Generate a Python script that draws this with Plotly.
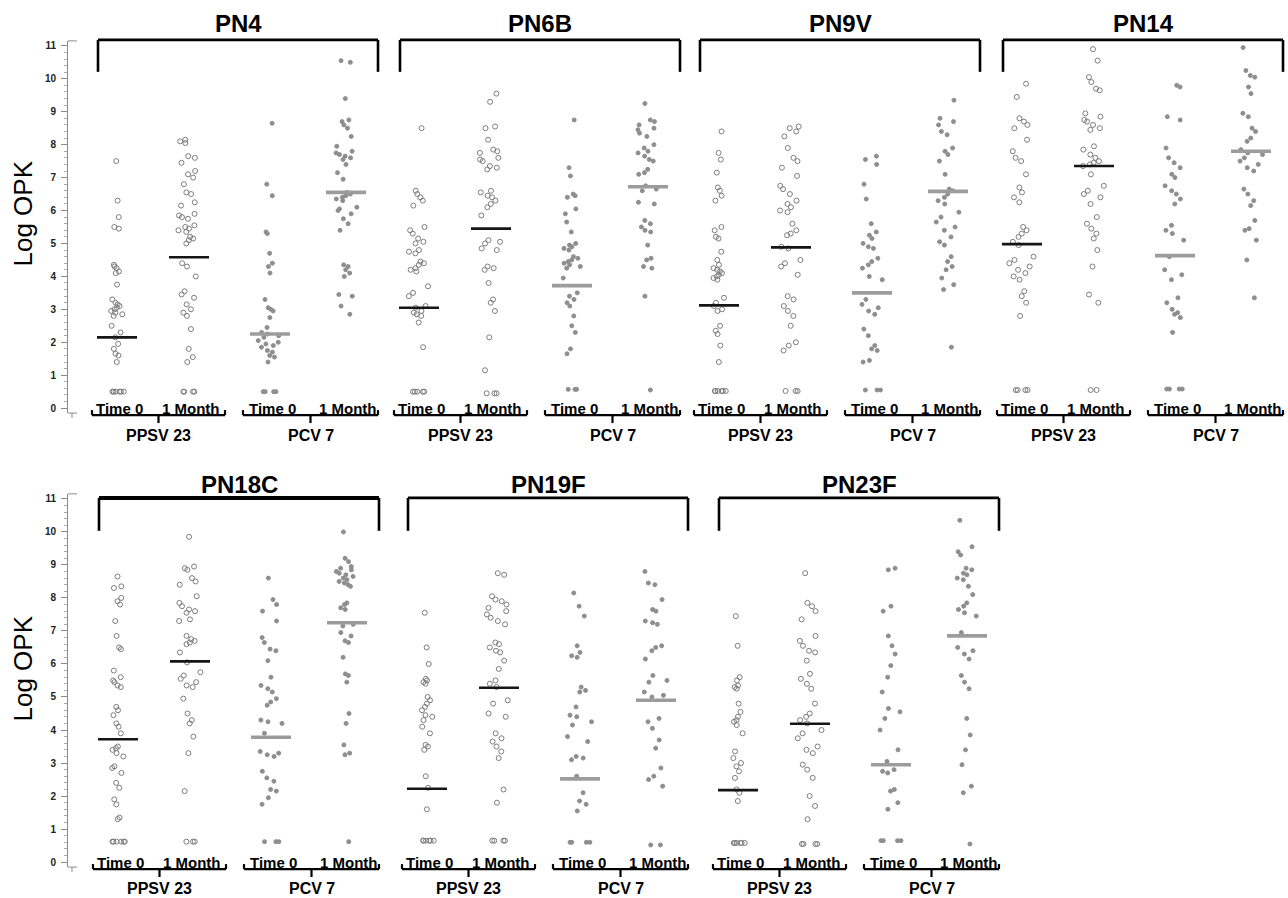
import plotly.graph_objects as go

# ---------------- data (Log OPK values) ----------------
serotypes = ["PN4", "PN6B", "PN9V", "PN14", "PN18C", "PN19F", "PN23F"]
time_labels = ["Time 0", "1 Month"]
vaccine_labels = ["PPSV 23", "PCV 7"]
y_tick_values = [0, 1, 2, 3, 4, 5, 6, 7, 8, 9, 10, 11]

pn4_ppsv_t0 = [7.5, 6.3, 5.8, 5.5, 5.45, 4.35, 4.3, 4.25, 4.15, 4.1, 3.75, 3.3, 3.2, 3.15, 3.1, 3.05, 3.0, 2.95,
               2.9, 2.85, 2.8, 2.5, 2.3, 2.15, 1.95, 1.8, 1.65, 1.6, 1.4, 0.5, 0.5, 0.5, 0.5, 0.5, 0.5]
pn4_ppsv_1m = [8.15, 8.1, 8.05, 7.65, 7.6, 7.45, 7.2, 7.1, 7.0, 6.8, 6.55, 6.5, 6.25, 6.15, 5.9, 5.85, 5.8, 5.75,
               5.55, 5.5, 5.45, 5.4, 5.35, 5.2, 5.15, 5.1, 5.0, 4.4, 4.3, 4.0, 3.55, 3.45, 3.35, 3.15, 3.0, 2.9,
               2.8, 2.4, 1.8, 1.55, 1.4, 0.5, 0.5, 0.5, 0.5]
pn4_pcv_t0 = [8.65, 6.8, 6.45, 5.35, 5.3, 4.7, 4.4, 4.3, 4.1, 3.3, 3.05, 3.0, 2.95, 2.75, 2.45, 2.3, 2.25, 2.2,
              2.15, 2.05, 2.0, 1.95, 1.9, 1.85, 1.75, 1.7, 1.6, 1.55, 1.4, 0.5, 0.5, 0.5, 0.5]
pn4_pcv_1m = [10.55, 10.5, 9.4, 8.75, 8.7, 8.6, 8.5, 8.25, 7.95, 7.8, 7.75, 7.7, 7.65, 7.6, 7.55, 7.4, 7.15, 6.95,
              6.55, 6.5, 6.45, 6.4, 6.35, 6.3, 6.1, 6.05, 6.0, 5.9, 5.75, 5.6, 5.4, 4.35, 4.3, 4.2, 4.1, 4.0,
              3.45, 3.4, 3.1, 2.85]
pn4_medians = [2.15, 4.58, 2.25, 6.55]

pn6b_ppsv_t0 = [8.5, 6.6, 6.5, 6.4, 6.3, 6.15, 5.5, 5.4, 5.3, 5.15, 5.05, 5.0, 4.8, 4.75, 4.7, 4.45, 4.4, 4.35,
                4.25, 4.2, 4.15, 3.7, 3.5, 3.4, 3.1, 3.05, 2.95, 2.9, 2.85, 2.8, 2.6, 1.85,
                0.5, 0.5, 0.5, 0.5, 0.5]
pn6b_ppsv_1m = [9.55, 9.3, 8.55, 8.5, 8.15, 7.85, 7.8, 7.75, 7.6, 7.55, 7.5, 7.35, 7.3, 7.25, 6.6, 6.55, 6.45,
                6.4, 6.3, 6.2, 6.1, 5.85, 5.1, 5.05, 5.0, 4.85, 4.8, 4.3, 4.25, 4.2, 3.8, 3.3, 3.2, 2.95, 2.15,
                1.15, 0.45, 0.45, 0.45]
pn6b_pcv_t0 = [8.75, 7.3, 7.05, 6.5, 6.45, 6.4, 6.05, 5.9, 5.65, 5.35, 5.0, 4.95, 4.9, 4.85, 4.8, 4.6, 4.55, 4.5,
               4.45, 4.4, 4.35, 4.3, 4.25, 3.95, 3.5, 3.4, 3.3, 3.2, 3.1, 2.8, 2.5, 2.3, 1.8, 1.65,
               0.57, 0.57, 0.57]
pn6b_pcv_1m = [9.25, 8.75, 8.7, 8.6, 8.5, 8.45, 8.35, 8.25, 8.0, 7.9, 7.8, 7.75, 7.65, 7.55, 7.5, 7.25, 7.15,
               7.1, 6.75, 6.65, 6.6, 6.25, 6.2, 5.7, 5.6, 5.5, 5.4, 5.35, 4.95, 4.55, 4.5, 4.3, 4.25, 3.4, 0.55]
pn6b_medians = [3.05, 5.45, 3.72, 6.72]

pn9v_ppsv_t0 = [8.4, 7.75, 7.55, 7.15, 6.7, 6.6, 6.45, 6.3, 5.5, 5.4, 5.2, 5.15, 4.75, 4.5, 4.35, 4.25, 4.2,
                4.15, 4.1, 4.05, 4.0, 3.95, 3.9, 3.35, 3.2, 3.1, 3.0, 2.95, 2.5, 2.35, 2.25, 1.9, 1.4,
                0.52, 0.52, 0.52, 0.52, 0.52, 0.52]
pn9v_ppsv_1m = [8.55, 8.5, 8.4, 8.25, 7.9, 7.6, 7.5, 7.3, 7.05, 6.75, 6.65, 6.5, 6.3, 6.2, 6.1, 6.0, 5.95, 5.6,
                5.4, 5.3, 5.25, 4.9, 4.85, 4.5, 4.4, 4.3, 4.05, 3.4, 3.3, 3.1, 2.95, 2.8, 2.5, 2.0, 1.9, 1.75,
                0.52, 0.52, 0.52]
pn9v_pcv_t0 = [7.65, 7.55, 7.4, 6.8, 6.35, 5.6, 5.35, 5.25, 5.15, 5.0, 4.9, 4.85, 4.55, 4.45, 4.35, 4.25, 4.0,
               3.9, 3.3, 3.15, 3.05, 2.95, 2.85, 2.4, 2.2, 1.9, 1.8, 1.75, 1.45, 1.4, 0.55, 0.55, 0.55]
pn9v_pcv_1m = [9.35, 8.8, 8.7, 8.6, 8.4, 8.3, 7.9, 7.8, 7.7, 7.5, 7.1, 6.65, 6.6, 6.5, 6.4, 6.3, 6.2, 5.95, 5.8,
               5.65, 5.5, 5.4, 5.2, 5.05, 4.95, 4.6, 4.45, 4.3, 4.2, 3.95, 3.75, 3.6, 1.85]
pn9v_medians = [3.12, 4.88, 3.5, 6.58]

pn14_ppsv_t0 = [9.85, 9.45, 8.8, 8.7, 8.6, 8.5, 8.15, 7.8, 7.6, 7.5, 7.1, 6.7, 6.55, 6.4, 6.25, 5.5, 5.4, 5.3,
                5.2, 5.05, 4.95, 4.6, 4.5, 4.4, 4.3, 4.2, 4.1, 4.0, 3.9, 3.55, 3.4, 3.2, 2.8,
                0.55, 0.55, 0.55, 0.55]
pn14_ppsv_1m = [10.9, 10.55, 10.05, 9.9, 9.7, 9.65, 8.95, 8.85, 8.75, 8.7, 8.6, 8.5, 8.45, 7.95, 7.85, 7.7, 7.6,
                7.5, 7.45, 7.4, 7.35, 7.1, 6.75, 6.6, 6.5, 6.4, 6.2, 5.8, 5.6, 5.45, 5.3, 5.15, 4.8, 4.3, 3.45,
                3.2, 0.55, 0.55]
pn14_pcv_t0 = [9.8, 9.75, 8.85, 8.75, 7.9, 7.6, 7.45, 7.3, 7.1, 7.0, 6.75, 6.6, 6.5, 6.35, 6.2, 5.55, 5.4, 5.3,
               5.1, 4.6, 4.2, 4.05, 3.9, 3.35, 3.2, 3.0, 2.9, 2.85, 2.75, 2.3, 0.58, 0.58, 0.58, 0.58]
pn14_pcv_1m = [10.95, 10.25, 10.1, 10.05, 9.75, 9.55, 8.95, 8.85, 8.5, 8.4, 8.2, 8.1, 7.85, 7.75, 7.7, 7.6, 7.5,
               7.4, 7.3, 7.2, 6.65, 6.5, 6.3, 6.15, 5.7, 5.45, 5.4, 5.1, 4.5, 3.35]
pn14_medians = [4.98, 7.35, 4.63, 7.8]

pn18c_ppsv_t0 = [8.65, 8.35, 8.3, 8.0, 7.9, 7.8, 7.3, 6.85, 6.5, 6.45, 5.8, 5.6, 5.5, 5.45, 5.35, 5.3, 4.7, 4.6,
                 4.45, 4.2, 4.1, 3.9, 3.5, 3.45, 3.4, 3.3, 3.2, 2.9, 2.85, 2.7, 2.4, 2.25, 1.9, 1.75, 1.35, 1.3,
                 0.62, 0.62, 0.62, 0.62, 0.62, 0.62]
pn18c_ppsv_1m = [9.85, 8.95, 8.9, 8.85, 8.6, 8.5, 8.4, 8.05, 7.85, 7.75, 7.65, 7.6, 7.55, 7.35, 7.3, 6.85, 6.75,
                 6.7, 6.65, 6.6, 6.35, 6.05, 5.75, 5.65, 5.55, 5.45, 5.35, 5.3, 4.95, 4.5, 4.3, 4.2, 3.8, 3.3,
                 2.15, 0.62, 0.62, 0.62]
pn18c_pcv_t0 = [8.6, 7.95, 7.8, 7.6, 7.3, 6.8, 6.65, 6.45, 6.4, 6.1, 5.6, 5.35, 5.25, 5.15, 4.95, 4.85, 4.75,
                4.3, 4.25, 4.2, 3.9, 3.35, 3.3, 3.25, 3.2, 2.75, 2.55, 2.45, 2.2, 2.15, 1.95, 1.75,
                0.62, 0.62, 0.62]
pn18c_pcv_1m = [10.0, 9.2, 9.1, 8.95, 8.9, 8.85, 8.8, 8.75, 8.7, 8.65, 8.6, 8.55, 8.5, 8.45, 8.4, 8.35, 7.85,
                7.8, 7.7, 7.65, 7.2, 7.15, 6.95, 6.85, 6.7, 6.65, 6.2, 5.7, 5.65, 5.45, 4.5, 4.2, 3.55, 3.3,
                3.25, 0.62]
pn18c_medians = [3.72, 6.08, 3.78, 7.25]

pn19f_ppsv_t0 = [7.55, 6.5, 6.0, 5.55, 5.5, 5.45, 5.4, 5.0, 4.9, 4.8, 4.7, 4.6, 4.45, 4.4, 4.3, 4.1, 3.9, 3.55,
                 3.5, 3.4, 2.6, 2.25, 1.6, 0.65, 0.65, 0.65, 0.65, 0.65, 0.65]
pn19f_ppsv_1m = [8.75, 8.7, 8.05, 7.95, 7.9, 7.8, 7.7, 7.6, 7.5, 7.4, 7.3, 7.2, 6.65, 6.6, 6.5, 6.4, 6.35, 6.1,
                 5.85, 5.5, 5.4, 5.3, 4.9, 4.8, 4.5, 4.4, 3.9, 3.75, 3.65, 3.5, 3.35, 3.15, 2.2, 1.8,
                 0.65, 0.65, 0.65, 0.65]
pn19f_pcv_t0 = [8.15, 7.75, 7.45, 6.55, 6.35, 6.25, 6.2, 5.3, 5.2, 5.15, 4.7, 4.45, 4.4, 4.25, 4.15, 3.8, 3.65,
                3.2, 3.15, 3.1, 2.6, 2.1, 1.85, 1.75, 1.55, 0.6, 0.6, 0.6, 0.6]
pn19f_pcv_1m = [8.8, 8.45, 8.4, 7.95, 7.65, 7.6, 7.3, 7.25, 7.2, 6.55, 6.5, 6.4, 6.15, 5.65, 5.5, 5.45, 5.15,
                5.05, 5.0, 4.35, 4.25, 4.05, 3.7, 3.45, 2.85, 2.6, 2.5, 2.3, 0.52, 0.52]
pn19f_medians = [2.22, 5.28, 2.52, 4.9]

pn23f_ppsv_t0 = [7.45, 6.55, 5.6, 5.5, 5.35, 5.3, 5.25, 4.8, 4.55, 4.4, 4.3, 4.25, 4.15, 3.9, 3.35, 3.15, 3.0,
                 2.9, 2.75, 2.55, 2.2, 2.1, 1.85, 0.58, 0.58, 0.58, 0.58, 0.58, 0.58]
pn23f_ppsv_1m = [8.75, 7.85, 7.75, 7.6, 7.35, 6.85, 6.7, 6.55, 6.4, 6.35, 6.1, 5.7, 5.55, 5.4, 5.25, 4.8, 4.5,
                 4.4, 4.3, 4.2, 4.0, 3.9, 3.75, 3.5, 3.4, 3.3, 2.95, 2.8, 2.55, 2.0, 1.7, 1.3,
                 0.55, 0.55, 0.55, 0.55]
pn23f_pcv_t0 = [8.9, 8.85, 7.75, 7.6, 6.85, 6.55, 6.3, 5.95, 5.6, 5.15, 4.65, 4.55, 4.35, 4.0, 3.4, 3.05, 2.8,
                2.75, 2.7, 2.2, 2.15, 1.8, 1.6, 0.65, 0.65, 0.65, 0.65]
pn23f_pcv_1m = [10.35, 9.55, 9.4, 9.3, 8.9, 8.85, 8.75, 8.7, 8.6, 8.55, 8.35, 8.1, 7.85, 7.75, 7.65, 7.55, 7.45,
                6.95, 6.5, 6.4, 6.3, 6.15, 5.65, 5.45, 5.25, 4.35, 3.85, 3.4, 2.95, 2.3, 2.1, 0.55]
pn23f_medians = [2.18, 4.19, 2.95, 6.85]

panel_columns = [
    [pn4_ppsv_t0, pn4_ppsv_1m, pn4_pcv_t0, pn4_pcv_1m],
    [pn6b_ppsv_t0, pn6b_ppsv_1m, pn6b_pcv_t0, pn6b_pcv_1m],
    [pn9v_ppsv_t0, pn9v_ppsv_1m, pn9v_pcv_t0, pn9v_pcv_1m],
    [pn14_ppsv_t0, pn14_ppsv_1m, pn14_pcv_t0, pn14_pcv_1m],
    [pn18c_ppsv_t0, pn18c_ppsv_1m, pn18c_pcv_t0, pn18c_pcv_1m],
    [pn19f_ppsv_t0, pn19f_ppsv_1m, pn19f_pcv_t0, pn19f_pcv_1m],
    [pn23f_ppsv_t0, pn23f_ppsv_1m, pn23f_pcv_t0, pn23f_pcv_1m],
]
panel_medians = [pn4_medians, pn6b_medians, pn9v_medians, pn14_medians,
                 pn18c_medians, pn19f_medians, pn23f_medians]

# ---------------- layout geometry (pixels of the 1288 x 898 page) ----------------
W, H = 1288, 898
ML = 68                                   # plot area starts at the y axis line
panel_row = [0, 0, 0, 0, 1, 1, 1]
panel_left = [98, 400, 700, 1003, 99, 408, 719]
col_offsets = [19, 91, 172, 248]
bracket_w = 280
zero_px = [408, 863]                      # pixel row of Log OPK = 0 per row
row_domain_px = [(40, 413), (494, 868)]   # top/bottom of each y axis
bracket_top_px = [39, 498]
bracket_leg_px = [71, 531]
title_px = [23, 485]
logopk_px = [213, 669]
group_label_dy = [27, 26]

FONT = "Liberation Sans, Arial, Helvetica, sans-serif"
PPSV_POINT = "#7d7d7d"
PCV_POINT = "#8e8e8e"
PPSV_LINE = "#151515"
PCV_LINE = "#9c9c9c"


def py(px):
    return 1 - px / H


def px_x(px):
    return (px - ML) / (W - ML)


fig = go.Figure()

for p, cols in enumerate(panel_columns):
    r = panel_row[p]
    xa = "x" if r == 0 else "x2"
    ya = "y" if r == 0 else "y2"
    for c, vals in enumerate(cols):
        xc = panel_left[p] + col_offsets[c]
        is_ppsv = c < 2
        fig.add_trace(go.Box(
            x=[xc] * len(vals), y=vals, xaxis=xa, yaxis=ya,
            boxpoints="all", jitter=1.0, pointpos=0, width=26,
            fillcolor="rgba(0,0,0,0)", line=dict(color="rgba(0,0,0,0)", width=0),
            whiskerwidth=0,
            marker=dict(
                symbol="circle-open" if is_ppsv else "circle",
                size=5 if is_ppsv else 4,
                color=PPSV_POINT if is_ppsv else PCV_POINT,
                line=dict(width=1, color=PPSV_POINT if is_ppsv else PCV_POINT),
            ),
            hoverinfo="skip", showlegend=False,
        ))
    for c, m in enumerate(panel_medians[p]):
        xc = panel_left[p] + col_offsets[c]
        is_ppsv = c < 2
        fig.add_trace(go.Scatter(
            x=[xc - 20, xc + 20], y=[m, m], xaxis=xa, yaxis=ya, mode="lines",
            line=dict(color=PPSV_LINE if is_ppsv else PCV_LINE, width=2.6 if is_ppsv else 3.6),
            hoverinfo="skip", showlegend=False,
        ))

shapes = []
annotations = []


def seg(x0, y0, x1, y1, xref, width, color="black"):
    shapes.append(dict(type="line", xref=xref, yref="paper", x0=x0, x1=x1, y0=py(y0), y1=py(y1),
                       line=dict(color=color, width=width), layer="above"))


for p, name in enumerate(serotypes):
    r = panel_row[p]
    xr = "x" if r == 0 else "x2"
    L = panel_left[p]
    R = L + bracket_w
    top, leg = bracket_top_px[r], bracket_leg_px[r]
    tw = 4 if name == "PN18C" else 2.6
    seg(L, top, R, top, xr, tw)
    seg(L, top, L, leg, xr, 2.6)
    seg(R, top, R, leg, xr, 2.6)
    annotations.append(dict(text=f"<b>{name}</b>", xref=xr, yref="paper", x=(L + R) / 2, y=py(title_px[r]),
                            showarrow=False, font=dict(family=FONT, size=24, color="black"),
                            xanchor="center", yanchor="middle"))
    z = zero_px[r]
    for c in range(4):
        xc = L + col_offsets[c]
        annotations.append(dict(text=f"<b>{time_labels[c % 2]}</b>", xref=xr, yref="paper", x=xc + 2,
                                y=py(z), showarrow=False, font=dict(family=FONT, size=15, color="black"),
                                xanchor="center", yanchor="middle"))
    for g, (b0, b1) in enumerate([(L - 6, L + 127), (L + 145, L + bracket_w)]):
        ymid = z + 7
        seg(b0, ymid, b1, ymid, xr, 2.2)
        seg(b0, z + 2, b0, ymid, xr, 2.2)
        seg(b1, z + 2, b1, ymid, xr, 2.2)
        xm = (b0 + b1) / 2
        seg(xm, ymid, xm, z + 15, xr, 2.2)
        annotations.append(dict(text=f"<b>{vaccine_labels[g]}</b>", xref=xr, yref="paper", x=xm,
                                y=py(z + group_label_dy[r]), showarrow=False,
                                font=dict(family=FONT, size=16, color="black"),
                                xanchor="center", yanchor="middle"))

for r in range(2):
    xr = "x" if r == 0 else "x2"
    t, b = row_domain_px[r]
    seg(ML, t, ML + 9, t, xr, 1, "#8a8a8a")
    seg(ML, b, ML + 9, b, xr, 1, "#8a8a8a")
    seg(ML + 4, b, ML + 4, b + 5, xr, 1, "#8a8a8a")
    annotations.append(dict(text="Log OPK", xref="paper", yref="paper", x=px_x(23), y=py(logopk_px[r]),
                            textangle=-90, showarrow=False, font=dict(family=FONT, size=26, color="black"),
                            xanchor="center", yanchor="middle"))


def yaxis_style(r):
    t, b = row_domain_px[r]
    return dict(
        domain=[py(b), py(t)], range=[-0.15, 11.15], anchor="x" if r == 0 else "x2",
        showline=True, linecolor="#8a8a8a", linewidth=1,
        ticks="outside", ticklen=6, tickwidth=1, tickcolor="#8a8a8a",
        tickmode="array", tickvals=y_tick_values, ticktext=[str(v) for v in y_tick_values],
        tickfont=dict(family=FONT, size=10, color="#222", weight="bold"),
        ticklabelstandoff=3,
        minor=dict(dtick=0.2, tick0=0, ticks="outside", ticklen=3, tickcolor="#aaaaaa", showgrid=False),
        showgrid=False, zeroline=False, fixedrange=True,
    )


def xaxis_style(r):
    return dict(domain=[0, 1], range=[ML, W], anchor="y" if r == 0 else "y2", visible=False,
                showgrid=False, zeroline=False, fixedrange=True)


fig.update_layout(
    width=W, height=H,
    margin=dict(l=ML, r=0, t=0, b=0, pad=0),
    paper_bgcolor="white", plot_bgcolor="white",
    boxmode="overlay", showlegend=False,
    xaxis=xaxis_style(0), xaxis2=xaxis_style(1),
    yaxis=yaxis_style(0), yaxis2=yaxis_style(1),
    shapes=shapes, annotations=annotations,
    font=dict(family=FONT),
)

fig.write_html(
    "out.html",
    config={"displayModeBar": False},
    post_script="document.body.style.margin='0';document.body.style.padding='0';"
                "document.body.style.overflow='hidden';",
)
